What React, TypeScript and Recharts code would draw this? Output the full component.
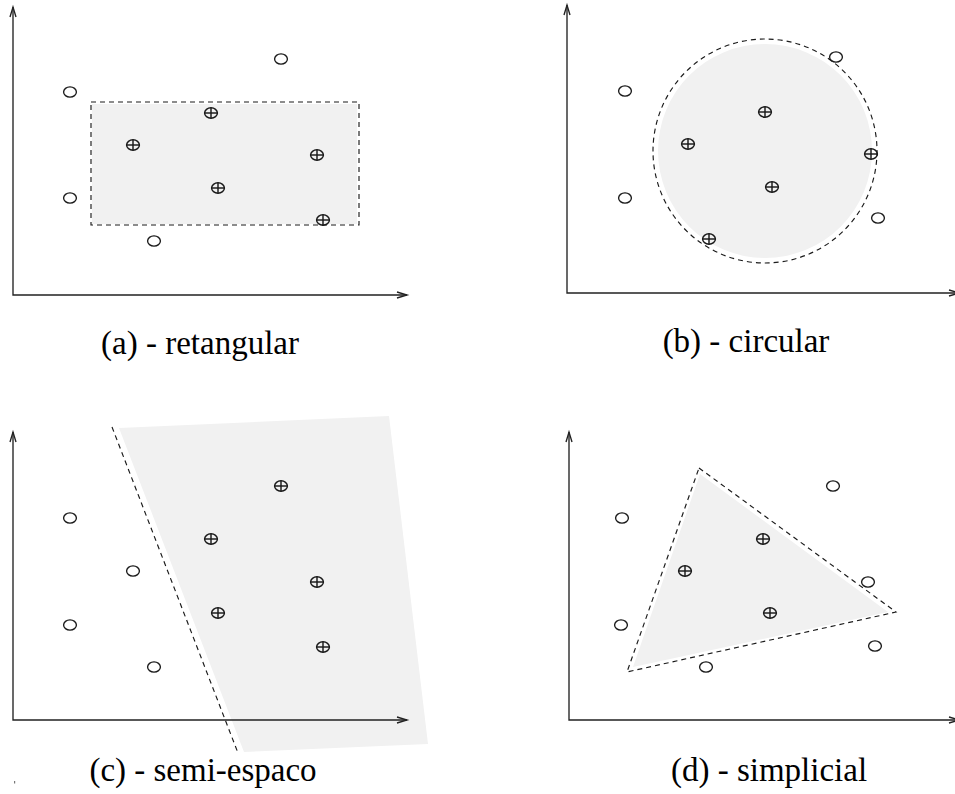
import React from "react";
import { ScatterChart, Scatter, XAxis, YAxis, ReferenceArea } from "recharts";

type P = { x: number; y: number };

// ---- Panel (a) retangular (coordinates relative to the axes origin, y upward)
const aCircles: P[] = [{ x: 57, y: 203 }, { x: 268, y: 236 }, { x: 57, y: 97 }, { x: 141, y: 54 }];
const aPlus: P[] = [{ x: 120, y: 150 }, { x: 198, y: 182 }, { x: 304, y: 140 }, { x: 205, y: 107 }, { x: 310, y: 75 }];
const aRect = { x1: 78, x2: 346, y1: 70, y2: 193 };

// ---- Panel (b) circular
const bCircles: P[] = [{ x: 58, y: 202 }, { x: 269, y: 236 }, { x: 58, y: 95 }, { x: 311, y: 75 }];
const bPlus: P[] = [{ x: 198, y: 181 }, { x: 121, y: 149 }, { x: 304, y: 139 }, { x: 205, y: 106 }, { x: 142, y: 54 }];
const bCenter: P = { x: 198, y: 142 };
const bRadiusOuter = 112;
const bRadiusInner = 107;

// ---- Panel (c) semi-espaco
const cCircles: P[] = [{ x: 57, y: 202 }, { x: 120, y: 149 }, { x: 57, y: 95 }, { x: 141, y: 53 }];
const cPlus: P[] = [{ x: 268, y: 234 }, { x: 198, y: 181 }, { x: 304, y: 138 }, { x: 205, y: 107 }, { x: 310, y: 73 }];
const cBoundary: P[] = [{ x: 99, y: 293 }, { x: 225, y: -33 }];
const cHalfPlane: P[] = [{ x: 106, y: 292 }, { x: 376, y: 304 }, { x: 415, y: -24 }, { x: 231, y: -32 }];

// ---- Panel (d) simplicial
const dCircles: P[] = [{ x: 53, y: 202 }, { x: 264, y: 234 }, { x: 299, y: 138 }, { x: 52, y: 95 }, { x: 306, y: 74 }, { x: 137, y: 53 }];
const dPlus: P[] = [{ x: 194, y: 181 }, { x: 116, y: 149 }, { x: 201, y: 107 }];
const dTriangle: P[] = [{ x: 130, y: 252 }, { x: 327, y: 108 }, { x: 58, y: 48 }, { x: 130, y: 252 }];
const dTriangleFill: P[] = [{ x: 131, y: 246 }, { x: 319, y: 108 }, { x: 64, y: 53 }];

const labels = [
  { text: "(a) - retangular", x: 200, y: 354 },
  { text: "(b) - circular", x: 746, y: 352 },
  { text: "(c) - semi-espaco", x: 203, y: 781 },
  { text: "(d) - simplicial", x: 769, y: 781 },
];

const FILL = "#f1f1f1";
const INK = "#1a1a1a";
const AXIS = "#222";

const none = () => <g />;

const circleShape = (p: any) => (
  <ellipse cx={p.cx} cy={p.cy} rx={6.4} ry={5.1} fill="none" stroke={INK} strokeWidth={1.35} />
);
const plusShape = (p: any) => (
  <g stroke={INK} strokeWidth={1.45} fill="none">
    <ellipse cx={p.cx} cy={p.cy} rx={6.4} ry={5.2} />
    <line x1={p.cx - 6.4} y1={p.cy} x2={p.cx + 6.4} y2={p.cy} />
    <line x1={p.cx} y1={p.cy - 5.2} x2={p.cx} y2={p.cy + 5.2} />
  </g>
);

const polygonLine = (fill: string) => (lp: any) => {
  const pts: { x: number; y: number }[] = lp.points || [];
  const d = pts.map((q, i) => `${i ? "L" : "M"}${q.x},${q.y}`).join(" ") + " Z";
  return <path d={d} fill={fill} stroke="none" />;
};

const ellipseLine = (fill: string, dashed: boolean) => (lp: any) => {
  const pts: { x: number; y: number }[] = lp.points || [];
  if (pts.length < 3) return <g />;
  const rx = Math.abs(pts[1].x - pts[0].x);
  const ry = Math.abs(pts[0].y - pts[2].y);
  return (
    <ellipse
      cx={pts[0].x}
      cy={pts[0].y}
      rx={rx}
      ry={ry}
      fill={fill}
      stroke={dashed ? INK : "none"}
      strokeWidth={1.15}
      strokeDasharray={dashed ? "5 4" : undefined}
    />
  );
};

const axesLine = (lp: any) => {
  const pts: { x: number; y: number }[] = lp.points || [];
  if (pts.length < 3) return <g />;
  const [top, o, right] = pts;
  return (
    <g stroke={AXIS} strokeWidth={1.35} fill="none">
      <path d={`M${top.x},${top.y} L${o.x},${o.y} L${right.x},${right.y}`} />
      <path d={`M${top.x - 3},${top.y + 10} L${top.x},${top.y} L${top.x + 3},${top.y + 10}`} />
      <path d={`M${right.x - 10},${right.y - 3} L${right.x},${right.y} L${right.x + -10},${right.y + 3}`} />
    </g>
  );
};

type PanelProps = {
  left: number;
  top: number;
  width: number;
  height: number;
  ox: number;
  oy: number;
  axisTop: number;
  axisRight: number;
  children: React.ReactNode;
};

function Panel({ left, top, width, height, ox, oy, axisTop, axisRight, children }: PanelProps) {
  const xDom: [number, number] = [left - ox, left + width - ox];
  const yDom: [number, number] = [oy - (top + height), oy - top];
  const axisPts: P[] = [
    { x: 0, y: axisTop },
    { x: 0, y: 0 },
    { x: axisRight, y: 0 },
  ];
  return (
    <div style={{ position: "absolute", left, top, width, height }}>
      <ScatterChart width={width} height={height} margin={{ top: 0, right: 0, bottom: 0, left: 0 }}>
        <XAxis type="number" dataKey="x" domain={xDom} allowDataOverflow hide />
        <YAxis type="number" dataKey="y" domain={yDom} allowDataOverflow hide />
        {children}
        <Scatter data={axisPts} line={axesLine} shape={none} isAnimationActive={false} />
      </ScatterChart>
    </div>
  );
}

export default function App() {
  return (
    <div style={{ position: "absolute", left: 0, top: 0, width: 955, height: 794, background: "#fff", overflow: "hidden" }}>
      {/* (a) */}
      <Panel left={0} top={0} width={470} height={320} ox={13} oy={295} axisTop={288} axisRight={394}>
        <ReferenceArea x1={aRect.x1 + 1} x2={aRect.x2 - 2} y1={aRect.y1 + 1} y2={aRect.y2 - 2} fill={FILL} fillOpacity={1} stroke="none" isAnimationActive={false} />
        <ReferenceArea x1={aRect.x1} x2={aRect.x2} y1={aRect.y1} y2={aRect.y2} fill="none" stroke={INK} strokeWidth={1.15} strokeDasharray="5 4" />
        <Scatter data={aCircles} shape={circleShape} isAnimationActive={false} />
        <Scatter data={aPlus} shape={plusShape} isAnimationActive={false} />
      </Panel>

      {/* (b) */}
      <Panel left={550} top={0} width={405} height={320} ox={567} oy={293} axisTop={288} axisRight={392}>
        <Scatter
          data={[bCenter, { x: bCenter.x + bRadiusInner, y: bCenter.y }, { x: bCenter.x, y: bCenter.y + bRadiusInner }]}
          line={ellipseLine(FILL, false)}
          shape={none}
          isAnimationActive={false}
        />
        <Scatter
          data={[bCenter, { x: bCenter.x + bRadiusOuter, y: bCenter.y }, { x: bCenter.x, y: bCenter.y + bRadiusOuter }]}
          line={ellipseLine("none", true)}
          shape={none}
          isAnimationActive={false}
        />
        <Scatter data={bCircles} shape={circleShape} isAnimationActive={false} />
        <Scatter data={bPlus} shape={plusShape} isAnimationActive={false} />
      </Panel>

      {/* (c) */}
      <Panel left={0} top={400} width={470} height={370} ox={13} oy={720} axisTop={288} axisRight={394}>
        <Scatter data={cHalfPlane} line={polygonLine(FILL)} shape={none} isAnimationActive={false} />
        <Scatter data={cBoundary} line={{ stroke: INK, strokeWidth: 1.15, strokeDasharray: "5 4" }} shape={none} isAnimationActive={false} />
        <Scatter data={cCircles} shape={circleShape} isAnimationActive={false} />
        <Scatter data={cPlus} shape={plusShape} isAnimationActive={false} />
      </Panel>

      {/* (d) */}
      <Panel left={550} top={400} width={405} height={340} ox={569} oy={720} axisTop={288} axisRight={390}>
        <Scatter data={dTriangleFill} line={polygonLine(FILL)} shape={none} isAnimationActive={false} />
        <Scatter data={dTriangle} line={{ stroke: INK, strokeWidth: 1.15, strokeDasharray: "5 4" }} shape={none} isAnimationActive={false} />
        <Scatter data={dCircles} shape={circleShape} isAnimationActive={false} />
        <Scatter data={dPlus} shape={plusShape} isAnimationActive={false} />
      </Panel>

      <svg width={955} height={794} style={{ position: "absolute", left: 0, top: 0, pointerEvents: "none" }}>
        {labels.map((l) => (
          <text key={l.text} x={l.x} y={l.y} textAnchor="middle" fontFamily="'Liberation Serif', 'Times New Roman', serif" fontSize={33} fill="#000">
            {l.text}
          </text>
        ))}
        <rect x={14} y={781} width={1.2} height={2.5} fill="#777" />
      </svg>
    </div>
  );
}
